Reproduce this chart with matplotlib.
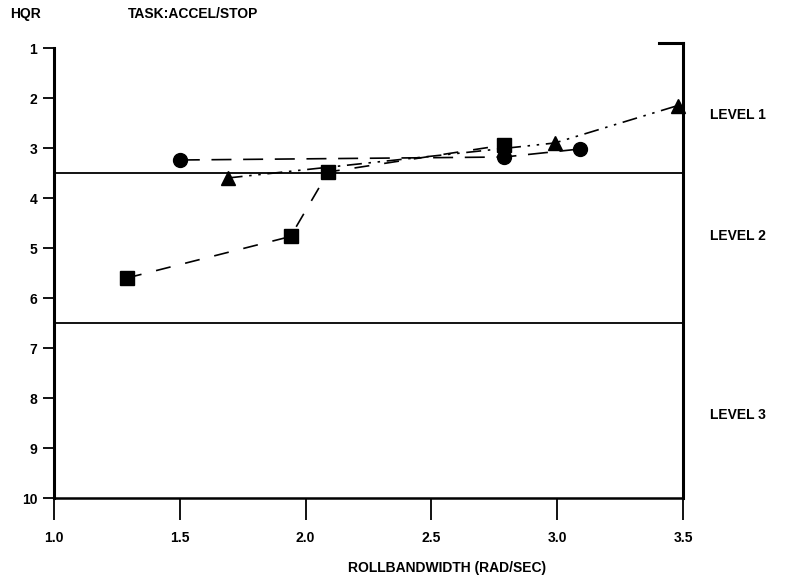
import matplotlib.pyplot as plt

# HQR vs roll bandwidth, task accel/stop
circ_x = [1.50, 2.79, 3.09]
circ_y = [3.24, 3.18, 3.02]

sq_x = [1.29, 1.94, 2.09, 2.79]
sq_y = [5.60, 4.77, 3.48, 2.94]

tri_x = [1.69, 2.99, 3.48]
tri_y = [3.60, 2.90, 2.15]

level_bounds = [3.5, 6.5]
level_names = ["LEVEL 1", "LEVEL 2", "LEVEL 3"]
level_pos = [115, 236, 415]   # pixel rows of the labels

xticks = [1.0, 1.5, 2.0, 2.5, 3.0, 3.5]
xtick_labels = ["1.0", "1.5", "2.0", "2.5", "3.0", "3.5"]
yticks = list(range(1, 11))

plt.rcParams['font.family'] = ['Liberation Sans', 'DejaVu Sans']

fig = plt.figure(figsize=(8.11, 5.80), dpi=100)
W, H = 811, 580
ax = fig.add_axes([54 / W, 1 - 498 / H, (683 - 54) / W, (498 - 43) / H])

ax.set_xlim(1.0, 3.5)
ax.set_ylim(10, 0.9)

for b in level_bounds:
    ax.axhline(b, color='black', lw=1.3)

ax.plot(circ_x, circ_y, color='black', lw=1.2, dashes=(12, 7),
        marker='o', markersize=10, clip_on=False)
ax.plot(sq_x, sq_y, color='black', lw=1.2, dashes=(9, 9),
        marker='s', markersize=10, clip_on=False)
ax.plot(tri_x, tri_y, color='black', lw=1.2, dashes=(9, 4, 1.5, 4, 1.5, 4),
        marker='^', markersize=10, clip_on=False)

# spines: left from 1, right up past 1 with a short top hook
ax.spines['left'].set_bounds(1, 10)
ax.spines['left'].set_linewidth(2.2)
ax.spines['right'].set_linewidth(2.2)
ax.spines['bottom'].set_linewidth(1.8)
ax.spines['top'].set_bounds(3.405, 3.5)
ax.spines['top'].set_linewidth(2.2)

ax.set_xticks(xticks)
ax.set_xticklabels(xtick_labels)
ax.set_yticks(yticks)
ax.tick_params(axis='x', direction='out', length=16, width=1.3, pad=8,
               labelsize=10)
ax.tick_params(axis='y', direction='out', length=8, width=1.3, pad=4,
               labelsize=10)
ax.tick_params(right=False, top=False)
for lab in ax.get_xticklabels() + ax.get_yticklabels():
    lab.set_fontweight('bold')

fig.text(10 / W, 1 - 14 / H, "HQR", fontsize=10, fontweight='bold',
         va='center', ha='left')
fig.text(128 / W, 1 - 14 / H, "TASK:ACCEL/STOP", fontsize=10,
         fontweight='bold', va='center', ha='left')
for name, yp in zip(level_names, level_pos):
    fig.text(710 / W, 1 - yp / H, name, fontsize=10, fontweight='bold',
             va='center', ha='left')
fig.text(447 / W, 1 - 568 / H, "ROLLBANDWIDTH (RAD/SEC)", fontsize=10,
         fontweight='bold', va='center', ha='center')

fig.savefig("out.png", dpi=100)
